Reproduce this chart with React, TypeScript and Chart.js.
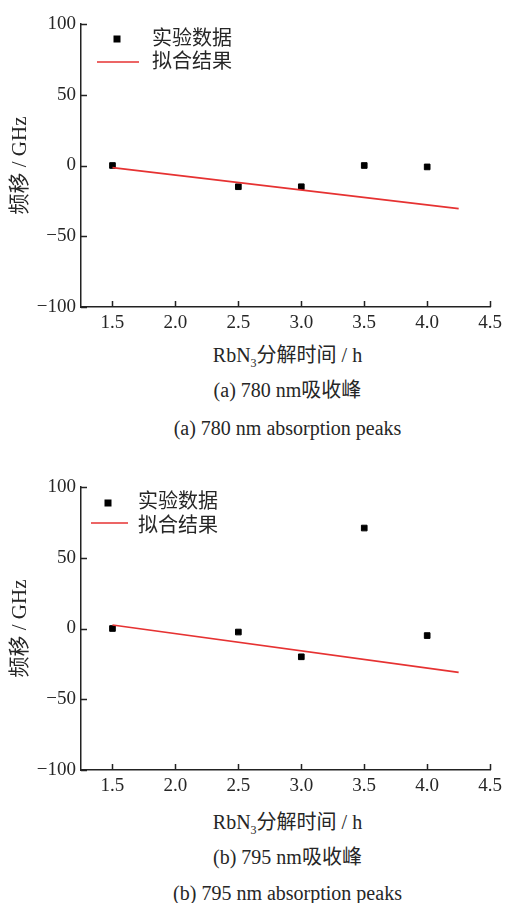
import React, { useEffect, useRef } from "react";
import { Chart, registerables } from "chart.js";

Chart.register(...registerables);

// ---- data ----
const xTicks = [1.5, 2.0, 2.5, 3.0, 3.5, 4.0, 4.5];
const yTicks = [-100, -50, 0, 50, 100];

const hoursA = [1.5, 2.5, 3.0, 3.5, 4.0];
const shiftA = [0, -15, -15, 0, -1];
const fitXA = [1.5, 4.25];
const fitYA = [-1.5, -30.5];

const hoursB = [1.5, 2.5, 3.0, 3.5, 4.0];
const shiftB = [0, -2.5, -20, 71, -5];
const fitXB = [1.5, 4.25];
const fitYB = [2.5, -31];

const legendLabels = ["实验数据", "拟合结果"];
const yTitle = "频移 / GHz";
const captionA = ["(a) 780 nm吸收峰", "(a) 780 nm absorption peaks"];
const captionB = ["(b) 795 nm吸收峰", "(b) 795 nm absorption peaks"];

const FONT = "'Liberation Serif', 'Noto Sans CJK SC', serif";
const TEXT = "#262626";
const AXIS = "#222";
const RED = "#e63232";

type LegendPos = { mx: number; my: number; l0: number; l1: number; ly: number; tx: number; t0: number; t1: number };

function Panel({ hours, shift, fitX, fitY, lg }: { hours: number[]; shift: number[]; fitX: number[]; fitY: number[]; lg: LegendPos }) {
  const ref = useRef<HTMLCanvasElement>(null);
  useEffect(() => {
    const decor = {
      id: "decor",
      afterDraw(chart: any) {
        const { ctx, chartArea, scales } = chart;
        const { left, top, bottom } = chartArea;
        ctx.save();
        ctx.strokeStyle = AXIS;
        ctx.lineWidth = 1.5;
        ctx.beginPath();
        scales.x.ticks.forEach((t: any) => {
          const px = Math.round(scales.x.getPixelForValue(t.value)) + 0.5;
          ctx.moveTo(px, bottom);
          ctx.lineTo(px, bottom - 6);
        });
        scales.y.ticks.forEach((t: any) => {
          const py = Math.round(scales.y.getPixelForValue(t.value)) + 0.5;
          ctx.moveTo(left, py);
          ctx.lineTo(left + 6, py);
        });
        ctx.stroke();
        // legend
        ctx.fillStyle = "#000";
        ctx.fillRect(left + lg.mx - 3.5, top + lg.my - 3.5, 7, 7);
        ctx.strokeStyle = RED;
        ctx.lineWidth = 1.6;
        ctx.beginPath();
        ctx.moveTo(left + lg.l0, top + lg.ly);
        ctx.lineTo(left + lg.l1, top + lg.ly);
        ctx.stroke();
        ctx.fillStyle = TEXT;
        ctx.font = `20px ${FONT}`;
        ctx.textBaseline = "middle";
        ctx.textAlign = "left";
        ctx.fillText(legendLabels[0], left + lg.tx, top + lg.t0);
        ctx.fillText(legendLabels[1], left + lg.tx, top + lg.t1);
        ctx.restore();
      },
    };
    const chart = new Chart(ref.current as HTMLCanvasElement, {
      type: "scatter",
      data: {
        datasets: [
          {
            label: legendLabels[1],
            type: "line",
            data: fitX.map((x, i) => ({ x, y: fitY[i] })),
            borderColor: RED,
            borderWidth: 1.6,
            pointRadius: 0,
            fill: false,
          } as any,
          {
            label: legendLabels[0],
            data: hours.map((x, i) => ({ x, y: shift[i] })),
            pointStyle: "rect",
            pointRadius: 4,
            pointBorderWidth: 1,
            backgroundColor: "#000",
            borderColor: "#000",
          },
        ],
      },
      options: {
        responsive: false,
        animation: false,
        layout: { padding: { top: 24, right: 13, left: 0, bottom: 5 } },
        plugins: { legend: { display: false }, tooltip: { enabled: false } },
        scales: {
          x: {
            type: "linear",
            min: 1.25,
            max: 4.5,
            afterBuildTicks: (s: any) => {
              s.ticks = xTicks.map((v) => ({ value: v }));
            },
            afterFit: (s: any) => {
              s.height = 28;
            },
            grid: { display: false, drawTicks: false },
            border: { display: true, color: AXIS, width: 1.5 },
            ticks: {
              autoSkip: false,
              maxRotation: 0,
              padding: 5,
              color: TEXT,
              font: { family: FONT, size: 19 },
              callback: (v: any) => Number(v).toFixed(1),
            },
          },
          y: {
            min: -100,
            max: 100,
            afterBuildTicks: (s: any) => {
              s.ticks = yTicks.map((v) => ({ value: v }));
            },
            afterFit: (s: any) => {
              s.width = 81;
            },
            grid: { display: false, drawTicks: false },
            border: { display: true, color: AXIS, width: 1.5 },
            ticks: {
              padding: 5,
              color: TEXT,
              font: { family: FONT, size: 19 },
              callback: (v: any) => (Number(v) < 0 ? "\u2212" + Math.abs(Number(v)) : String(v)),
            },
            title: {
              display: true,
              text: yTitle,
              color: TEXT,
              font: { family: FONT, size: 21 },
              padding: { top: 8, bottom: 0 },
            },
          },
        },
      },
      plugins: [decor],
    } as any);
    return () => chart.destroy();
  }, []);
  return <canvas ref={ref} width={507} height={340} style={{ display: "block", width: 507, height: 340 }} />;
}

function Captions({ top, caps, gap }: { top: number; caps: string[]; gap: number[] }) {
  const base: React.CSSProperties = {
    position: "absolute",
    left: 81,
    width: 413,
    textAlign: "center",
    fontFamily: FONT,
    fontSize: 20,
    color: TEXT,
    lineHeight: "24px",
    whiteSpace: "nowrap",
  };
  return (
    <>
      <div style={{ ...base, top: top }}>
        RbN<sub style={{ fontSize: 12, lineHeight: 0, verticalAlign: "-5px" }}>3</sub>分解时间 / h
      </div>
      <div style={{ ...base, top: top + gap[0] }}>{caps[0]}</div>
      <div style={{ ...base, top: top + gap[1] }}>{caps[1]}</div>
    </>
  );
}

export default function App() {
  return (
    <div style={{ position: "absolute", left: 0, top: 0, width: 507, height: 903, background: "#fff", overflow: "hidden" }}>
      <div style={{ position: "absolute", left: 0, top: 0 }}>
        <Panel
          hours={hoursA}
          shift={shiftA}
          fitX={fitXA}
          fitY={fitYA}
          lg={{ mx: 36, my: 15, l0: 16, l1: 58, ly: 38, tx: 71, t0: 16, t1: 39 }}
        />
      </div>
      <Captions top={343} caps={captionA} gap={[35, 73]} />
      <div style={{ position: "absolute", left: 0, top: 463 }}>
        <Panel
          hours={hoursB}
          shift={shiftB}
          fitX={fitXB}
          fitY={fitYB}
          lg={{ mx: 27, my: 16, l0: 10, l1: 47, ly: 36, tx: 57, t0: 16, t1: 40 }}
        />
      </div>
      <Captions top={810} caps={captionB} gap={[35, 71]} />
    </div>
  );
}
